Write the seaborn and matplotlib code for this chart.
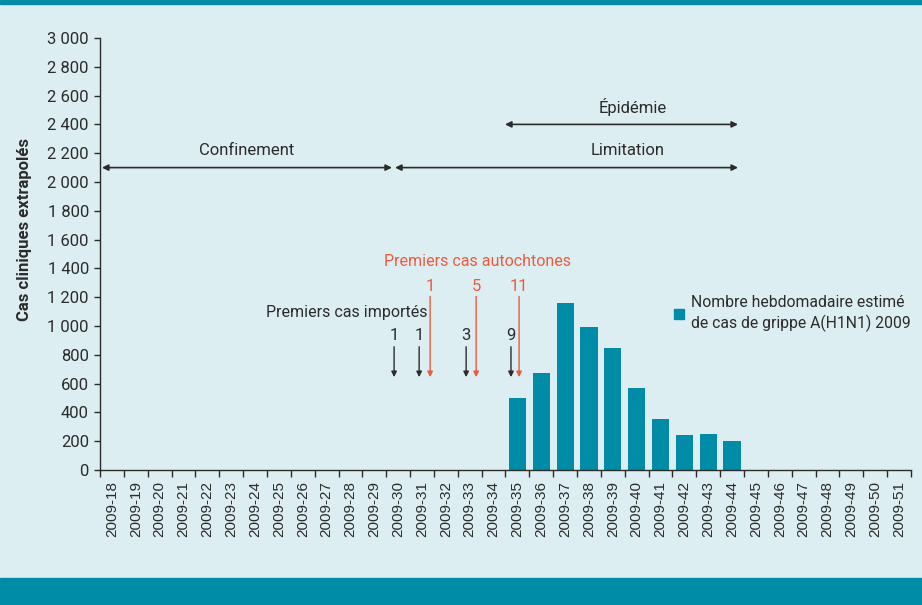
import matplotlib
matplotlib.use('Agg')
import matplotlib.pyplot as plt
from matplotlib.patches import Rectangle
from matplotlib.lines import Line2D
from matplotlib.ticker import FuncFormatter, FixedLocator
import pandas as pd
import seaborn as sns

# Data
weeks = ['2009-18', '2009-19', '2009-20', '2009-21', '2009-22', '2009-23', '2009-24',
         '2009-25', '2009-26', '2009-27', '2009-28', '2009-29', '2009-30', '2009-31',
         '2009-32', '2009-33', '2009-34', '2009-35', '2009-36', '2009-37', '2009-38',
         '2009-39', '2009-40', '2009-41', '2009-42', '2009-43', '2009-44', '2009-45',
         '2009-46', '2009-47', '2009-48', '2009-49', '2009-50', '2009-51']
cases = [0, 0, 0, 0, 0, 0, 0, 0, 0, 0, 0, 0, 0, 0, 0, 0, 0,
         500, 675, 1160, 995, 845, 570, 355, 245, 250, 200,
         0, 0, 0, 0, 0, 0, 0]

# first imported / local cases (position in week index, count)
imported_pos = [11.83, 12.88, 14.85, 16.73]
imported_counts = ['1', '1', '3', '9']
local_pos = [13.34, 15.27, 17.07]
local_counts = ['1', '5', '11']

# periods (start, end, label, label x, level)
periods = [(-0.42, 11.74, 'Confinement', 5.66, 2100),
           (11.87, 26.25, 'Limitation', 21.64, 2100),
           (16.48, 26.25, 'Épidémie', 21.85, 2400)]

df = pd.DataFrame({'week': weeks, 'cases': cases})

bg = '#ddeef3'
teal = '#008ba6'
red = '#ee5a3c'
dark = '#2b2b2b'

plt.rcParams['font.family'] = ['Roboto', 'DejaVu Sans']

fig = plt.figure(figsize=(9.22, 6.05), dpi=100, facecolor=bg)
ax = fig.add_axes([0.1085, 0.2231, 0.8795, 0.7141])
ax.set_facecolor(bg)

sns.barplot(data=df, x='week', y='cases', order=weeks, color=teal, saturation=1,
            width=0.72, linewidth=0, ax=ax)

ax.set_xlim(-0.5, len(weeks) - 0.5)
ax.set_ylim(0, 3000)
ax.set_yticks(range(0, 3001, 200))
ax.yaxis.set_major_formatter(FuncFormatter(lambda v, p: f'{int(v):,}'.replace(',', ' ')))
ax.tick_params(axis='y', labelsize=12, length=4, width=1, color=dark, labelcolor=dark, pad=4)

ax.xaxis.set_major_locator(FixedLocator(range(len(weeks))))
ax.set_xticklabels(weeks, rotation=90, fontfamily='Liberation Sans', fontsize=11, color=dark)
ax.xaxis.set_minor_locator(FixedLocator([i - 0.5 for i in range(len(weeks) + 1)]))
ax.tick_params(axis='x', which='major', length=0, pad=8)
ax.tick_params(axis='x', which='minor', length=5, width=1, color=dark)

ax.set_xlabel('')
ax.set_ylabel('Cas cliniques extrapolés', fontsize=12, fontweight='bold', color=dark)
ax.yaxis.set_label_coords(-0.084, 0.556)

for s in ['top', 'right']:
    ax.spines[s].set_visible(False)
for s in ['left', 'bottom']:
    ax.spines[s].set_color(dark)
    ax.spines[s].set_linewidth(1)

# period arrows
for x0, x1, label, lx, lvl in periods:
    ax.annotate('', xy=(x1, lvl), xytext=(x0, lvl),
                arrowprops=dict(arrowstyle='<|-|>', color=dark, lw=1.2,
                                mutation_scale=9, shrinkA=0, shrinkB=0))
    ax.text(lx, lvl + 122, label, ha='center', va='center', fontsize=12, color=dark)

# imported cases
for x, n in zip(imported_pos, imported_counts):
    ax.annotate('', xy=(x, 645), xytext=(x, 856),
                arrowprops=dict(arrowstyle='-|>', color=dark, lw=1,
                                mutation_scale=8, shrinkA=0, shrinkB=0))
    ax.text(x, 880, n, ha='center', va='bottom', fontsize=12, color=dark)
ax.text(9.86, 1093, 'Premiers cas importés', ha='center', va='center', fontsize=11.5, color=dark)

# local cases
for x, n in zip(local_pos, local_counts):
    ax.annotate('', xy=(x, 645), xytext=(x, 1205),
                arrowprops=dict(arrowstyle='-|>', color=red, lw=1,
                                mutation_scale=8, shrinkA=0, shrinkB=0))
    ax.text(x, 1220, n, ha='center', va='bottom', fontsize=12, color=red)
ax.text(15.31, 1447, 'Premiers cas autochtones', ha='center', va='center', fontsize=11.5, color=red)

# legend
handle = Line2D([], [], marker='s', linestyle='', color=teal, markersize=7)
leg = ax.legend([handle], ['Nombre hebdomadaire estimé\nde cas de grippe A(H1N1) 2009'],
                loc='upper left', bbox_to_anchor=(0.687, 0.437), frameon=False,
                fontsize=11.3, handletextpad=0.25, handlelength=1.0, labelcolor=dark)
leg.get_texts()[0].set_linespacing(1.3)

# decorative bands
fig.patches.append(Rectangle((0, 1 - 4 / 605), 1, 4 / 605, transform=fig.transFigure,
                             color=teal, zorder=0))
fig.patches.append(Rectangle((0, 0), 1, 27 / 605, transform=fig.transFigure,
                             color=teal, zorder=0))

fig.savefig('out.png', dpi=100, facecolor=bg)
